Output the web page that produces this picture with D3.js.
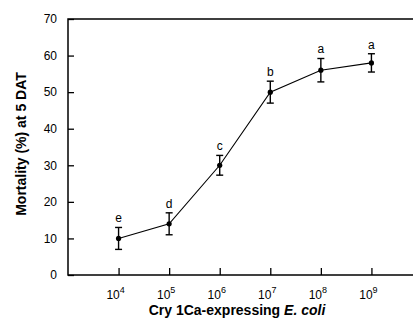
<!DOCTYPE html>
<html>
<head>
<meta charset="utf-8">
<script src="https://cdn.jsdelivr.net/npm/d3@7"></script>
<style>
  body { margin: 0; background: #fff; }
  text { font-family: Arial, "Liberation Sans", sans-serif; }
</style>
</head>
<body>
<div id="chart"></div>
<script>
// chart data
var doses = [1e4, 1e5, 1e6, 1e7, 1e8, 1e9];
var mortality = [10, 14, 30, 50, 56, 58];
var errors = [3, 3, 2.7, 3, 3.2, 2.5];
var groups = ["e", "d", "c", "b", "a", "a"];
var yTicks = [0, 10, 20, 30, 40, 50, 60, 70];
var xTickExps = [4, 5, 6, 7, 8, 9];

var svgWidth = 413;
var svgHeight = 323;

var margin = { top: 19, right: -9, bottom: 48, left: 68 };
var width = svgWidth - margin.left - margin.right;
var height = svgHeight - margin.top - margin.bottom;

var svg = d3.select("#chart")
  .append("svg")
  .attr("width", svgWidth)
  .attr("height", svgHeight);

var chartGroup = svg.append("g")
  .attr("transform", `translate(${margin.left}, ${margin.top})`);

var xLogScale = d3.scaleLog()
  .domain([1e3, 1e10])
  .range([0, width]);

var yLinearScale = d3.scaleLinear()
  .domain([0, 70])
  .range([height, 0]);

// frame
chartGroup.append("rect")
  .attr("x", 0)
  .attr("y", 0)
  .attr("width", width)
  .attr("height", height)
  .attr("fill", "none")
  .attr("stroke", "#000")
  .attr("stroke-width", 1.5);

// y axis, ticks pointing inward
var leftAxis = d3.axisLeft(yLinearScale)
  .tickValues(yTicks)
  .tickSizeInner(-6)
  .tickSizeOuter(0)
  .tickPadding(11);

var yAxisG = chartGroup.append("g").call(leftAxis);
yAxisG.select(".domain").remove();
yAxisG.selectAll("line").attr("stroke-width", 1.3);
yAxisG.selectAll("text")
  .attr("font-size", "12px")
  .attr("fill", "#000");

// x axis, ticks pointing inward
var bottomAxis = d3.axisBottom(xLogScale)
  .tickValues(xTickExps.map(e => Math.pow(10, e)))
  .tickSizeInner(-7)
  .tickSizeOuter(0)
  .tickFormat("");

var xAxisG = chartGroup.append("g")
  .attr("transform", `translate(0, ${height})`)
  .call(bottomAxis);
xAxisG.select(".domain").remove();
xAxisG.selectAll("line").attr("stroke-width", 1.3);

var xLabels = chartGroup.selectAll(".xlab")
  .data(xTickExps)
  .enter()
  .append("text")
  .attr("class", "xlab")
  .attr("x", d => xLogScale(Math.pow(10, d)) - 3)
  .attr("y", height + 24)
  .attr("text-anchor", "middle")
  .attr("font-size", "12px");
xLabels.append("tspan").text("10");
xLabels.append("tspan")
  .attr("dy", -6)
  .attr("font-size", "9px")
  .text(d => d);

// line
var line = d3.line()
  .x((d, i) => xLogScale(doses[i]))
  .y(d => yLinearScale(d));

chartGroup.append("path")
  .datum(mortality)
  .attr("d", line)
  .attr("fill", "none")
  .attr("stroke", "#000")
  .attr("stroke-width", 1.1);

// error bars
var errG = chartGroup.selectAll(".err")
  .data(mortality)
  .enter()
  .append("g")
  .attr("class", "err")
  .attr("stroke", "#000")
  .attr("stroke-width", 1.4);

errG.append("line")
  .attr("x1", (d, i) => xLogScale(doses[i]))
  .attr("x2", (d, i) => xLogScale(doses[i]))
  .attr("y1", (d, i) => yLinearScale(d + errors[i]))
  .attr("y2", (d, i) => yLinearScale(d - errors[i]));
errG.append("line")
  .attr("x1", (d, i) => xLogScale(doses[i]) - 3.5)
  .attr("x2", (d, i) => xLogScale(doses[i]) + 3.5)
  .attr("y1", (d, i) => yLinearScale(d + errors[i]))
  .attr("y2", (d, i) => yLinearScale(d + errors[i]));
errG.append("line")
  .attr("x1", (d, i) => xLogScale(doses[i]) - 3.5)
  .attr("x2", (d, i) => xLogScale(doses[i]) + 3.5)
  .attr("y1", (d, i) => yLinearScale(d - errors[i]))
  .attr("y2", (d, i) => yLinearScale(d - errors[i]));

// points
chartGroup.selectAll("circle")
  .data(mortality)
  .enter()
  .append("circle")
  .attr("cx", (d, i) => xLogScale(doses[i]))
  .attr("cy", d => yLinearScale(d))
  .attr("r", 2.6)
  .attr("fill", "#000");

// significance letters
chartGroup.selectAll(".grp")
  .data(mortality)
  .enter()
  .append("text")
  .attr("class", "grp")
  .attr("x", (d, i) => xLogScale(doses[i]))
  .attr("y", (d, i) => yLinearScale(d + errors[i]) - 5)
  .attr("text-anchor", "middle")
  .attr("font-size", "12px")
  .text((d, i) => groups[i]);

// axis titles
var xTitle = svg.append("text")
  .attr("x", 237)
  .attr("y", 315)
  .attr("text-anchor", "middle")
  .attr("font-size", "14px")
  .attr("font-weight", "bold");
xTitle.append("tspan").text("Cry 1Ca-expressing ");
xTitle.append("tspan").attr("font-style", "italic").text("E. coli");

svg.append("text")
  .attr("transform", "translate(26, 144) rotate(-90)")
  .attr("text-anchor", "middle")
  .attr("font-size", "14px")
  .attr("font-weight", "bold")
  .text("Mortality (%) at 5 DAT");
</script>
</body>
</html>
